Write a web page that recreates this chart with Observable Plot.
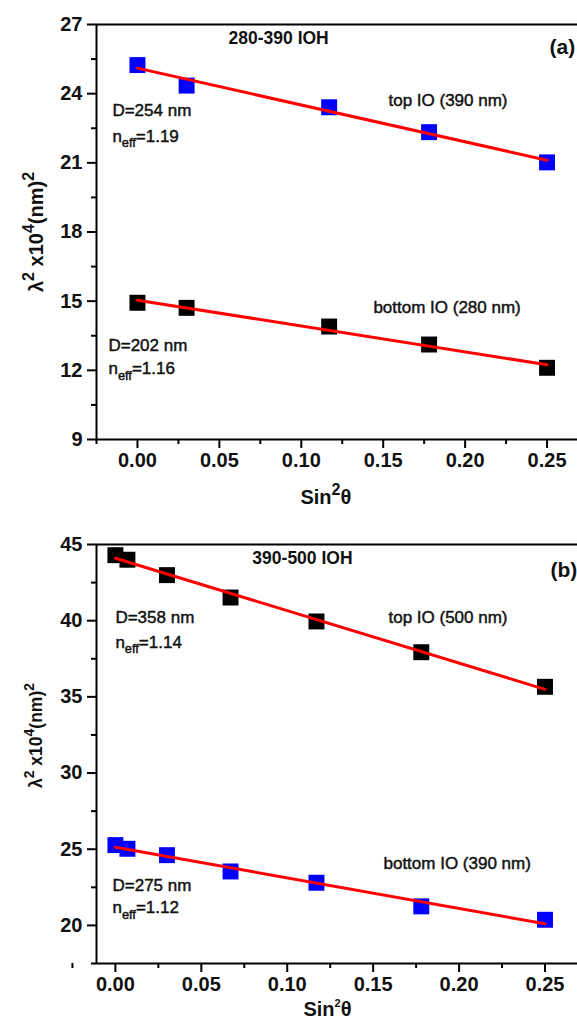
<!DOCTYPE html>
<html>
<head>
<meta charset="utf-8">
<script src="https://cdn.jsdelivr.net/npm/d3@7"></script>
<script src="https://cdn.jsdelivr.net/npm/@observablehq/plot@0.6"></script>
<style>
  html, body { margin: 0; padding: 0; background: #fff; overflow: hidden; }
  #fig { position: relative; width: 577px; height: 1020px; overflow: hidden; background: #fff; }
  #fig svg { position: absolute; left: 0; }
</style>
</head>
<body>
<div id="fig"></div>
<script>
// (a) 280-390 IOH: λ² (×10⁴ nm²) against sin²θ
const sinA = [0, 0.030, 0.117, 0.178, 0.250];
const topA = [25.24, 24.35, 23.41, 22.33, 21.02];      // top IO (390 nm)
const bottomA = [14.93, 14.71, 13.90, 13.12, 12.11];   // bottom IO (280 nm)

// (b) 390-500 IOH
const sinB = [0, 0.007, 0.030, 0.067, 0.117, 0.178, 0.250];
const topB = [44.30, 44.00, 42.99, 41.52, 39.95, 37.93, 35.66];    // top IO (500 nm)
const bottomB = [25.27, 25.03, 24.61, 23.54, 22.80, 21.25, 20.37]; // bottom IO (390 nm)

// axis ticks
const xTicks = [0, 0.05, 0.10, 0.15, 0.20, 0.25];
const xMinor = [-0.025, 0.025, 0.075, 0.125, 0.175, 0.225, 0.275];
const yTicksA = [9, 12, 15, 18, 21, 24, 27];
const yMinorA = [10.5, 13.5, 16.5, 19.5, 22.5, 25.5];
const yTicksB = [20, 25, 30, 35, 40, 45];
const yMinorB = [17.5, 22.5, 27.5, 32.5, 37.5, 42.5];

// titles (^{..} superscript, _{..} subscript)
const xTitle = "Sin^{2}θ";
const yTitle = "λ^{2} x10^{4}(nm)^{2}";

const rows = (xs, ys) => xs.map((x, i) => ({x, y: ys[i]}));
const BLUE = "#0000ff", BLACK = "#000000", RED = "#ff0000";
const FONT = '"Liberation Sans", Arial, sans-serif';

// in-plot annotation; a thin outline gives the medium-weight look
function note(text, x, y, {size = 17, weight = "normal", outline = 0.45} = {}) {
  return Plot.text([text], {x, y, textAnchor: "start", lineAnchor: "middle",
    fontSize: size, fontWeight: weight, fill: "#111", stroke: "#111", strokeWidth: outline});
}

function panel(cfg) {
  const W = 620;
  return Plot.plot({
    width: W,
    height: cfg.height,
    marginLeft: 96,
    marginRight: W - cfg.xRight,
    marginTop: 24,
    marginBottom: cfg.marginBottom,
    style: `font-family: ${FONT}; font-size: 20px; font-weight: bold; max-width: none; background: transparent; overflow: visible;`,
    x: {domain: cfg.xDomain},
    y: {domain: cfg.yDomain},
    marks: [
      Plot.frame({stroke: BLACK, strokeWidth: 2}),
      Plot.axisX({ticks: xTicks, tickSize: 9, tickPadding: 4, strokeWidth: 2,
        tickFormat: d3.format(".2f"), label: null, fill: "#111"}),
      Plot.axisX({ticks: xMinor, tickSize: 5, strokeWidth: 2, tickFormat: () => "", label: null}),
      Plot.axisY({ticks: cfg.yTicks, tickSize: 9, tickPadding: 5, strokeWidth: 2,
        tickFormat: d3.format("d"), label: null, fill: "#111"}),
      Plot.axisY({ticks: cfg.yMinor, tickSize: 5, strokeWidth: 2, tickFormat: () => "", label: null}),
      ...cfg.series.map(s => Plot.dot(s.data, {x: "x", y: "y", symbol: "square", r: 9, fill: s.color, stroke: null})),
      ...cfg.series.map(s => Plot.linearRegressionY(s.data, {x: "x", y: "y", stroke: RED, strokeWidth: 3, ci: 0})),
      Plot.text([xTitle], {x: cfg.xTitleX, frameAnchor: "bottom", dy: cfg.xTitleDy, lineAnchor: "middle",
        fontSize: 20, fontWeight: "bold", fill: "#111"}),
      Plot.text([yTitle], {frameAnchor: "left", dx: -60, dy: cfg.yTitleDy, rotate: -90,
        textAnchor: "middle", lineAnchor: "middle",
        fontSize: cfg.yTitleSize, fontWeight: "bold", fill: "#111"}),
      ...cfg.notes
    ]
  });
}

// turn ^{..} and _{..} into raised / lowered tspans
function richText(svg, supScaleFor) {
  const ns = "http://www.w3.org/2000/svg";
  svg.querySelectorAll("text").forEach(t => {
    const src = t.textContent;
    if (!/[\^_]\{/.test(src)) return;
    const base = parseFloat(getComputedStyle(t).fontSize) || 20;
    const supScale = supScaleFor(src);
    while (t.firstChild) t.removeChild(t.firstChild);
    const add = (str, size, dy) => {
      const ts = document.createElementNS(ns, "tspan");
      ts.textContent = str;
      if (size) ts.setAttribute("font-size", size);
      if (dy) ts.setAttribute("dy", dy);
      t.appendChild(ts);
    };
    const re = /([\^_])\{([^}]*)\}/g;
    let last = 0, pending = 0, m;
    while ((m = re.exec(src))) {
      if (m.index > last) { add(src.slice(last, m.index), null, pending); pending = 0; }
      const sup = m[1] === "^";
      const size = base * (sup ? supScale : 0.75);
      const dy = sup ? -base * 0.45 : base * 0.32;
      add(m[2], size, dy + pending);
      pending = -dy;
      last = re.lastIndex;
    }
    if (last < src.length) add(src.slice(last), null, pending);
  });
}

const fig = document.getElementById("fig");

const plotA = panel({
  height: 520, marginBottom: 81,
  xDomain: [-0.025, 0.275], xRight: 587.5,
  yDomain: [9, 27], yTicks: yTicksA, yMinor: yMinorA,
  xTitleX: 0.115, xTitleDy: 58, yTitleDy: 0, yTitleSize: 20,
  series: [
    {data: rows(sinA, topA), color: BLUE},
    {data: rows(sinA, bottomA), color: BLACK}
  ],
  notes: [
    note("280-390 IOH", 0.0556, 26.39, {size: 17.5, weight: "bold", outline: 0}),
    note("(a)", 0.2515, 26.0, {size: 21, weight: "bold", outline: 0}),
    note("top IO (390 nm)", 0.1532, 23.7),
    note("D=254 nm", -0.0153, 23.27),
    note("n_{eff}=1.19", -0.0153, 22.14),
    note("bottom IO (280 nm)", 0.144, 14.73),
    note("D=202 nm", -0.0177, 13.08),
    note("n_{eff}=1.16", -0.0177, 12.07)
  ]
});
plotA.style.top = "0px";
fig.appendChild(plotA);

const plotB = panel({
  height: 500, marginBottom: 57,
  xDomain: [-0.011, 0.272], xRight: 582.3,
  yDomain: [17.5, 45], yTicks: yTicksB, yMinor: yMinorB,
  xTitleX: 0.1234, xTitleDy: 46, yTitleDy: -18.5, yTitleSize: 17.5,
  series: [
    {data: rows(sinB, topB), color: BLACK},
    {data: rows(sinB, bottomB), color: BLUE}
  ],
  notes: [
    note("390-500 IOH", 0.0797, 44.08, {size: 17.5, weight: "bold", outline: 0}),
    note("(b)", 0.2532, 43.29, {size: 21, weight: "bold", outline: 0}),
    note("top IO (500 nm)", 0.1589, 40.21),
    note("D=358 nm", 0.0, 40.21),
    note("n_{eff}=1.14", 0.0, 38.59),
    note("bottom IO (390 nm)", 0.156, 24.07),
    note("D=275 nm", -0.0017, 22.62),
    note("n_{eff}=1.12", -0.0017, 21.14)
  ]
});
plotB.style.top = "520px";
fig.appendChild(plotB);

richText(plotA, () => 0.8);
richText(plotB, s => s.startsWith("Sin") ? 0.55 : 0.8);
</script>
</body>
</html>
